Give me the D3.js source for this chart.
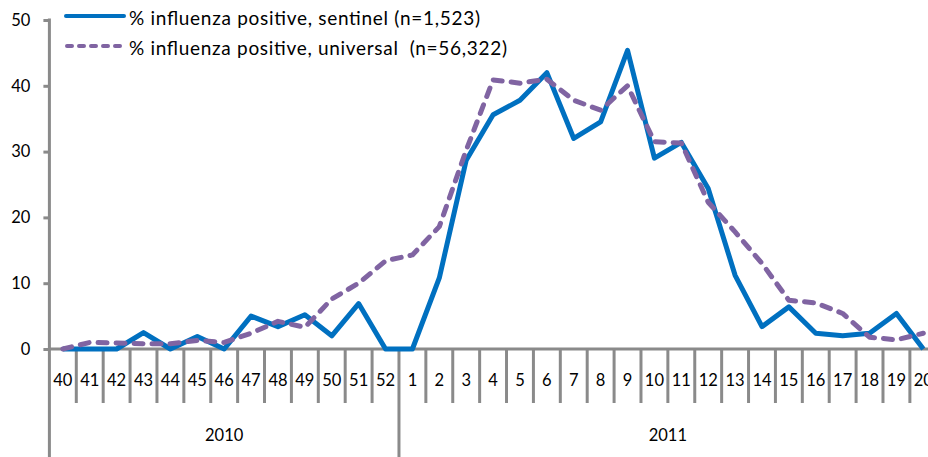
<!DOCTYPE html>
<html><head><meta charset="utf-8">
<script src="https://cdn.jsdelivr.net/npm/d3@7"></script>
<style>body{margin:0;background:#fff;overflow:hidden}svg{display:block}text{font-family:Lato,"Open Sans",sans-serif;fill:#000}</style>
</head><body>
<script>
const weeks = ["40","41","42","43","44","45","46","47","48","49","50","51","52","1","2","3","4","5","6","7","8","9","10","11","12","13","14","15","16","17","18","19","20"];
const years = [{label:"2010", n:13},{label:"2011", n:20}];
const sentinel = [0,0,0,2.5,0,1.9,0,5.0,3.4,5.2,2.0,6.9,0,0,10.8,28.7,35.6,37.8,42.0,32.0,34.5,45.4,29.0,31.4,24.4,11.2,3.4,6.4,2.4,2.0,2.4,5.4,0];
const universal = [0,1.0,0.9,0.8,0.8,1.3,1.0,2.4,4.2,3.3,7.6,10.0,13.4,14.3,18.6,30.2,40.9,40.4,41.0,37.8,36.3,40.0,31.5,31.3,22.3,17.8,13.0,7.4,7.0,5.4,1.8,1.4,2.4];
const yTicks = [0,10,20,30,40,50];
const legendLabels = ["% influenza positive, sentinel (n=1,523)", "% influenza positive, universal\u00a0\u00a0(n=56,322)"];

const W = 928, H = 457;
const svg = d3.select("body").append("svg").attr("width", W).attr("height", H);
const x0 = 49.4, x1 = 49.4 + 33 * 26.89;
const x = d3.scaleBand().domain(weeks.map((w,i)=>i)).range([x0, x1]);
const y = d3.scaleLinear().domain([0,50]).range([349, 20]);
const grey = "#8a8a8a";
const blue = "#0070C0", purple = "#8064A2";

// y axis
const ya = svg.append("g").attr("transform", `translate(${x0},0)`)
  .call(d3.axisLeft(y).tickValues(yTicks).tickSize(6).tickPadding(13));
ya.select(".domain").remove();
ya.selectAll(".tick line").attr("stroke", grey).attr("stroke-width", 3);
ya.selectAll(".tick text").attr("font-size", 16.5).style("font-family","Lato,'Open Sans',sans-serif").attr("fill","#000");
svg.append("line").attr("x1", x0).attr("x2", x0).attr("y1", y(50)-1.5).attr("y2", H)
  .attr("stroke", grey).attr("stroke-width", 3);

// x axis
svg.append("line").attr("x1", x0).attr("x2", x1).attr("y1", y(0)).attr("y2", y(0))
  .attr("stroke", grey).attr("stroke-width", 3);
const bw = x.bandwidth();
svg.append("g").selectAll("line").data(weeks.map((w,i)=>i).slice(1))
  .join("line")
  .attr("x1", i=>x(i)).attr("x2", i=>x(i))
  .attr("y1", y(0)).attr("y2", i => i===13 ? H : 403)
  .attr("stroke", grey).attr("stroke-width", 3);
svg.append("g").selectAll("text").data(weeks)
  .join("text")
  .attr("x", (d,i)=>x(i)+bw/2).attr("y", 380)
  .attr("text-anchor","middle").attr("dominant-baseline","central")
  .attr("font-size", 16.5).text(d=>d);
let start = 0;
years.forEach(yr => {
  const a = x(start), b = start+yr.n < weeks.length ? x(start+yr.n) : x1;
  svg.append("text").attr("x", (a+b)/2).attr("y", 435)
    .attr("text-anchor","middle").attr("dominant-baseline","central")
    .attr("font-size", 16.5).text(yr.label);
  start += yr.n;
});

// lines
const line = d3.line().x((d,i)=>x(i)+bw/2).y(d=>y(d));
svg.append("path").datum(sentinel).attr("d", line)
  .attr("fill","none").attr("stroke",blue).attr("stroke-width",5).attr("stroke-linejoin","round");
svg.append("path").datum(universal).attr("d", line)
  .attr("fill","none").attr("stroke",purple).attr("stroke-width",5)
  .attr("stroke-dasharray","9,9").attr("stroke-linecap","round").attr("stroke-linejoin","round");

// legend
const lg = svg.append("g");
lg.append("line").attr("x1",66).attr("x2",124).attr("y1",16).attr("y2",16)
  .attr("stroke",blue).attr("stroke-width",4).attr("stroke-linecap","round");
lg.append("line").attr("x1",67).attr("x2",124).attr("y1",46).attr("y2",46)
  .attr("stroke",purple).attr("stroke-width",4).attr("stroke-dasharray","5,7").attr("stroke-linecap","round");
lg.append("text").attr("x",129).attr("y",17).attr("dominant-baseline","central").attr("font-size",19)
  .attr("textLength",351).attr("lengthAdjust","spacing").text(legendLabels[0]);
lg.append("text").attr("x",129).attr("y",47).attr("dominant-baseline","central").attr("font-size",19)
  .attr("textLength",378).attr("lengthAdjust","spacing").text(legendLabels[1]);
</script>
</body></html>
